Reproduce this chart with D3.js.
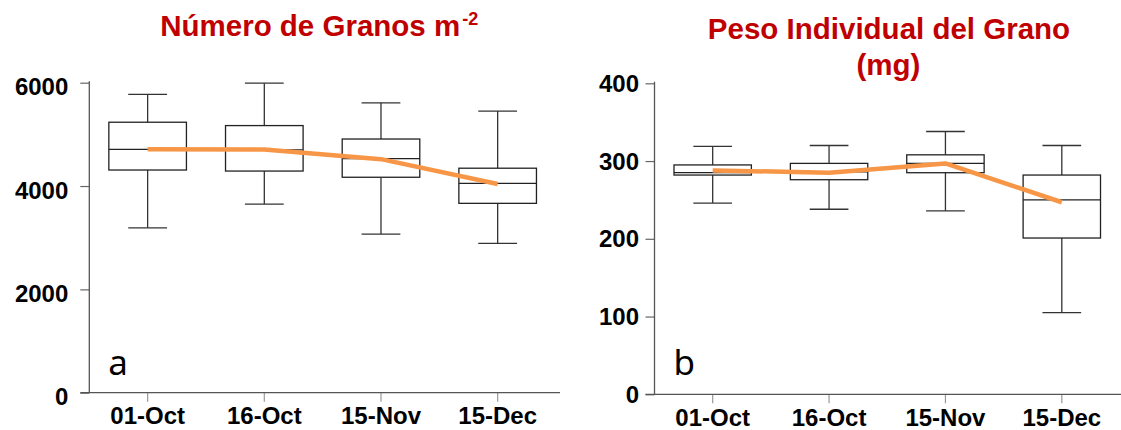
<!DOCTYPE html>
<html>
<head>
<meta charset="utf-8">
<script src="https://cdn.jsdelivr.net/npm/d3@7/dist/d3.min.js"></script>
<style>
  html, body { margin: 0; padding: 0; background: #ffffff; }
  svg { display: block; }
</style>
</head>
<body>
<svg id="chart" width="1121" height="430"></svg>
<script>
// ---------- DATA ----------
const categories = ["01-Oct", "16-Oct", "15-Nov", "15-Dec"];

// Panel a: Número de Granos m-2
const granosTicks  = [0, 2000, 4000, 6000];
const granosMin    = [3190, 3650, 3070, 2890];
const granosQ1     = [4310, 4290, 4170, 3665];
const granosMedian = [4710, 4700, 4530, 4050];
const granosQ3     = [5235, 5170, 4910, 4345];
const granosMax    = [5775, 5990, 5610, 5450];
const granosMean   = [4710, 4705, 4520, 4040];

// Panel b: Peso Individual del Grano (mg)
const pesoTicks  = [0, 100, 200, 300, 400];
const pesoMin    = [246, 238, 236, 105];
const pesoQ1     = [282, 276, 285, 201];
const pesoMedian = [285, 286, 297, 250];
const pesoQ3     = [295, 297, 308, 282];
const pesoMax    = [319, 320, 338, 320];
const pesoMean   = [288, 285, 297, 247];

// ---------- DRAW ----------
const svg = d3.select("#chart");
svg.append("rect").attr("width", 1121).attr("height", 430).attr("fill", "#fff");

const TICK_FONT = "'Liberation Sans', Arial, Helvetica, sans-serif";
const RED = "#c00000";
const ORANGE = "#f79646";

function drawPanel(p) {
  const g = svg.append("g");
  const x = d3.scaleBand().domain(categories).range([p.x0, p.x1]).paddingInner(0).paddingOuter(0);
  const y = d3.scaleLinear().domain(p.domain).range([p.yBottom, p.yTop]);
  const cx = d => x(d) + x.bandwidth() / 2;
  const bw = x.bandwidth() * 0.665;
  const cw = bw * 0.5;

  // Y axis
  const yAxis = d3.axisLeft(y).tickValues(p.ticks).tickSize(9).tickSizeOuter(0)
    .tickPadding(p.yPad).tickFormat(d3.format("d"));
  const ya = g.append("g").attr("transform", `translate(${p.x0},0)`).call(yAxis);
  ya.select(".domain").remove();
  ya.selectAll(".tick line").attr("stroke", "#666").attr("stroke-width", 1.2);
  ya.selectAll(".tick text").attr("font-family", TICK_FONT).attr("font-weight", "bold")
    .attr("font-size", 24).attr("fill", "#000").attr("dy", p.yDy);

  // X axis
  const xAxis = d3.axisBottom(x).tickSize(9).tickSizeOuter(0).tickPadding(6);
  const xa = g.append("g").attr("transform", `translate(0,${p.yBottom})`).call(xAxis);
  xa.select(".domain").remove();
  xa.selectAll(".tick line").attr("stroke", "#999").attr("stroke-width", 1.2);
  xa.selectAll(".tick text").attr("font-family", TICK_FONT).attr("font-weight", "bold")
    .attr("font-size", 24).attr("fill", "#000").attr("dy", "0.68em");

  // axis lines
  g.append("line").attr("x1", p.x0).attr("x2", p.x0)
    .attr("y1", p.yTop - 1.5).attr("y2", p.yBottom)
    .attr("stroke", "#555").attr("stroke-width", 1.3);
  g.append("line").attr("x1", p.x0 - 9).attr("x2", p.axisEnd)
    .attr("y1", p.yBottom).attr("y2", p.yBottom)
    .attr("stroke", "#555").attr("stroke-width", 1.3);

  const rows = categories.map((c, i) => ({
    c, min: p.min[i], q1: p.q1[i], med: p.med[i], q3: p.q3[i], max: p.max[i], mean: p.mean[i]
  }));

  const bx = g.append("g").selectAll("g").data(rows).join("g");
  const wStroke = "#333";
  // whiskers
  bx.append("line").attr("x1", d => cx(d.c)).attr("x2", d => cx(d.c))
    .attr("y1", d => y(d.max)).attr("y2", d => y(d.q3))
    .attr("stroke", wStroke).attr("stroke-width", 1.3);
  bx.append("line").attr("x1", d => cx(d.c)).attr("x2", d => cx(d.c))
    .attr("y1", d => y(d.q1)).attr("y2", d => y(d.min))
    .attr("stroke", wStroke).attr("stroke-width", 1.3);
  // caps
  bx.append("line").attr("x1", d => cx(d.c) - cw / 2).attr("x2", d => cx(d.c) + cw / 2)
    .attr("y1", d => y(d.max)).attr("y2", d => y(d.max))
    .attr("stroke", wStroke).attr("stroke-width", 1.3);
  bx.append("line").attr("x1", d => cx(d.c) - cw / 2).attr("x2", d => cx(d.c) + cw / 2)
    .attr("y1", d => y(d.min)).attr("y2", d => y(d.min))
    .attr("stroke", wStroke).attr("stroke-width", 1.3);
  // boxes
  bx.append("rect").attr("x", d => cx(d.c) - bw / 2).attr("width", bw)
    .attr("y", d => y(d.q3)).attr("height", d => y(d.q1) - y(d.q3))
    .attr("fill", "#fff").attr("stroke", "#222").attr("stroke-width", 1.3);
  // medians
  bx.append("line").attr("x1", d => cx(d.c) - bw / 2).attr("x2", d => cx(d.c) + bw / 2)
    .attr("y1", d => y(d.med)).attr("y2", d => y(d.med))
    .attr("stroke", "#222").attr("stroke-width", 1.3);

  // mean line
  const line = d3.line().x(d => cx(d.c)).y(d => y(d.mean));
  g.append("path").datum(rows).attr("d", line)
    .attr("fill", "none").attr("stroke", ORANGE).attr("stroke-width", 4.5)
    .attr("stroke-linejoin", "round");

  // panel letter
  g.append("text").attr("x", p.x0 + 19).attr("y", 375)
    .attr("font-family", "'Noto Sans', 'Open Sans', sans-serif")
    .attr("font-size", 35).attr("fill", "#000").text(p.letter);
}

drawPanel({
  x0: 89.3, x1: 556, axisEnd: 560, yTop: 82.7, yBottom: 392.7,
  domain: [0, 6000], ticks: granosTicks, yPad: 12, yDy: "0.5em",
  min: granosMin, q1: granosQ1, med: granosMedian, q3: granosQ3, max: granosMax, mean: granosMean,
  letter: "a"
});

drawPanel({
  x0: 654.5, x1: 1120, axisEnd: 1121, yTop: 83.3, yBottom: 394.3,
  domain: [0, 400], ticks: pesoTicks, yPad: 6.5, yDy: "0.34em",
  min: pesoMin, q1: pesoQ1, med: pesoMedian, q3: pesoQ3, max: pesoMax, mean: pesoMean,
  letter: "b"
});

// Titles
const t1 = svg.append("text").attr("x", 319.2).attr("y", 35.7)
  .attr("text-anchor", "middle").attr("font-family", TICK_FONT).attr("font-weight", "bold")
  .attr("font-size", 29.5).attr("fill", RED);
t1.append("tspan").text("Número de Granos m");
t1.append("tspan").attr("font-size", 18).attr("dy", -11).attr("dx", 2).text("-2");

svg.append("text").attr("x", 889).attr("y", 39.3)
  .attr("text-anchor", "middle").attr("font-family", TICK_FONT).attr("font-weight", "bold")
  .attr("font-size", 29.5).attr("fill", RED).text("Peso Individual del Grano");
svg.append("text").attr("x", 888.5).attr("y", 75)
  .attr("text-anchor", "middle").attr("font-family", TICK_FONT).attr("font-weight", "bold")
  .attr("font-size", 29.5).attr("fill", RED).text("(mg)");
</script>
</body>
</html>
